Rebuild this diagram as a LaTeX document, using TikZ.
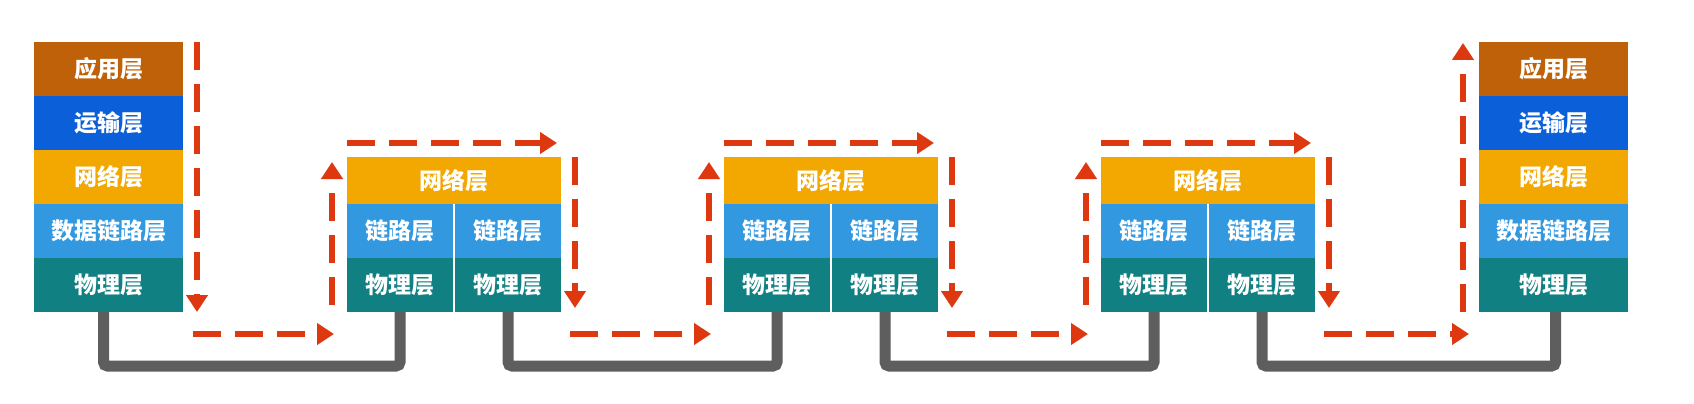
\documentclass[tikz,border=0pt]{standalone}
\usepackage{fontspec}
\newfontfamily\cjk{Noto Sans CJK SC}
\usetikzlibrary{arrows.meta}
\definecolor{appc}{RGB}{191,97,8}
\definecolor{trc}{RGB}{11,95,216}
\definecolor{netc}{RGB}{242,168,0}
\definecolor{dlc}{RGB}{50,152,224}
\definecolor{phc}{RGB}{16,128,130}
\definecolor{flowc}{RGB}{222,56,16}
\definecolor{wirec}{RGB}{94,94,94}
\tikzset{
  layer/.style={anchor=north west, inner sep=0pt, outer sep=0pt, text=white,
    font=\cjk\bfseries\fontsize{23pt}{23pt}\selectfont},
  hostlayer/.style={layer, minimum width=149pt, minimum height=54pt},
  netbox/.style={layer, fill=netc, minimum width=214pt, minimum height=47pt},
  halfbox/.style={layer, minimum width=106pt, minimum height=54pt},
  flow/.style={draw=flowc, line width=6pt, dash pattern=on 28pt off 14pt,
    -{Triangle[width=21pt,length=17pt]}},
  wire/.style={draw=wirec, line width=11pt, rounded corners=4pt}
}
\begin{document}
\begin{tikzpicture}[x=1pt,y=-1pt]
\fill[white] (0,0) rectangle (1694,404);
\useasboundingbox (0,0) rectangle (1694,404);
% left host
\node[hostlayer, fill=appc] (h1a) at (34,42) {应用层};
\node[hostlayer, fill=trc] (h1t) at (34,96) {运输层};
\node[hostlayer, fill=netc] (h1n) at (34,150) {网络层};
\node[hostlayer, fill=dlc] (h1d) at (34,204) {数据链路层};
\node[hostlayer, fill=phc] (h1p) at (34,258) {物理层};
% right host
\node[hostlayer, fill=appc] (h2a) at (1479,42) {应用层};
\node[hostlayer, fill=trc] (h2t) at (1479,96) {运输层};
\node[hostlayer, fill=netc] (h2n) at (1479,150) {网络层};
\node[hostlayer, fill=dlc] (h2d) at (1479,204) {数据链路层};
\node[hostlayer, fill=phc] (h2p) at (1479,258) {物理层};
% routers
\foreach \i/\x in {1/347,2/724,3/1101}{
  \node[netbox] (r\i n) at (\x,157) {网络层};
  \node[halfbox, fill=dlc] (r\i l1) at (\x,204) {链路层};
  \node[halfbox, fill=dlc] (r\i l2) at (\x+108,204) {链路层};
  \node[halfbox, fill=phc] (r\i p1) at (\x,258) {物理层};
  \node[halfbox, fill=phc] (r\i p2) at (\x+108,258) {物理层};
}
% wires
\draw[wire] ([xshift=-5pt]h1p.south) -- ++(0pt,-54pt) -| (r1p1.south);
\draw[wire] (r1p2.south) -- ++(0pt,-54pt) -| (r2p1.south);
\draw[wire] (r2p2.south) -- ++(0pt,-54pt) -| (r3p1.south);
\draw[wire] (r3p2.south) -- ++(0pt,-54pt) -| ([xshift=2pt]h2p.south);
% flow arrows
\draw[flow] ([xshift=14pt]h1a.north east) -- ([xshift=14pt]h1p.south east);
\draw[flow] ([xshift=10pt,yshift=-22pt]h1p.south east) -- ([xshift=-13pt,yshift=-22pt]r1p1.south west);
\foreach \i in {1,2,3}{
  \draw[flow] ([xshift=-15pt,yshift=7pt]r\i p1.south west) -- ([xshift=-15pt,yshift=-5pt]r\i n.north west);
  \draw[flow] ([yshift=14pt]r\i n.north west) -- ([xshift=-4pt,yshift=14pt]r\i n.north east);
  \draw[flow] ([xshift=14pt]r\i n.north east) -- ([xshift=14pt,yshift=4pt]r\i p2.south east);
}
\draw[flow] ([xshift=9pt,yshift=-22pt]r1p2.south east) -- ([xshift=-13pt,yshift=-22pt]r2p1.south west);
\draw[flow] ([xshift=9pt,yshift=-22pt]r2p2.south east) -- ([xshift=-13pt,yshift=-22pt]r3p1.south west);
\draw[flow] ([xshift=9pt,yshift=-22pt]r3p2.south east) -- ([xshift=-10pt,yshift=-22pt]h2p.south west);
\draw[flow] ([xshift=-16pt]h2p.south west) -- ([xshift=-16pt,yshift=-1pt]h2a.north west);
\end{tikzpicture}
\end{document}
